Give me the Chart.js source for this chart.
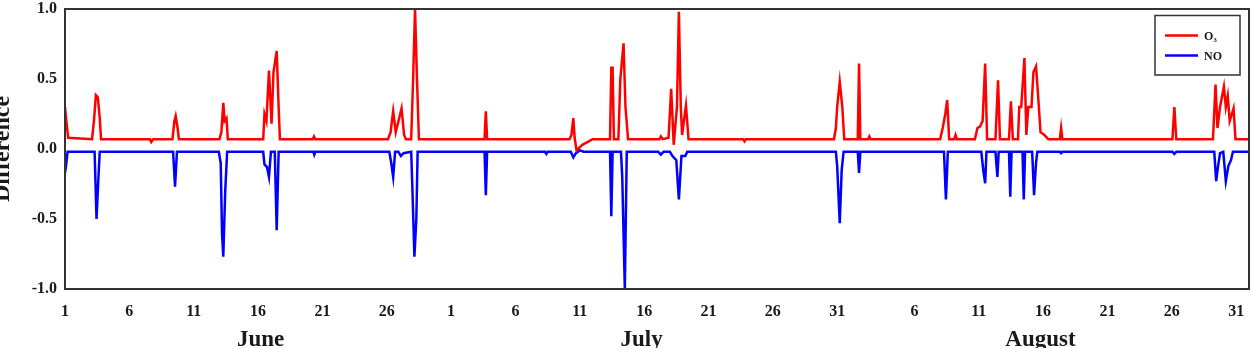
<!DOCTYPE html>
<html lang="en">
<head>
    <meta charset="UTF-8">
    <title>O3 / NO difference</title>
    <script src="https://cdn.jsdelivr.net/npm/chart.js"></script>
    <style>
        body {
            margin: 0;
            background-color: #ffffff;
        }

        .chart-container {
            position: relative;
            width: 1253px;
            height: 348px;
        }
    </style>
</head>
<body>
    <div class="chart-container">
        <canvas id="lineChart"></canvas>
    </div>

    <script>
        // x = days since 1 June (0 = June 1, 30 = July 1, 61 = Aug 1)
        const o3Day = [0, 0.08, 0.25, 2.1, 2.25, 2.4, 2.55, 2.7, 2.8, 6.6, 6.7, 6.85, 8.35, 8.5, 8.6, 8.75, 8.85,
            12.0, 12.15, 12.3, 12.4, 12.55, 12.65, 15.4, 15.5, 15.65, 15.85, 16.05, 16.2, 16.45, 16.6, 16.7,
            19.25, 19.35, 19.45, 25.1, 25.3, 25.5, 25.7, 26.15, 26.35, 26.5, 26.9, 27.05, 27.2, 27.35, 27.5,
            32.6, 32.7, 32.8, 39.2, 39.35, 39.5, 39.6, 39.75, 40.2, 41.0, 42.35, 42.45, 42.55, 42.65,
            43.0, 43.15, 43.25, 43.4, 43.55, 43.75, 46.2, 46.3, 46.45, 46.9, 47.1, 47.3, 47.55, 47.7, 47.85,
            47.95, 48.25, 48.45, 52.7, 52.8, 52.9, 59.75, 59.9, 60.0, 60.2, 60.4, 60.55, 61.6, 61.7, 61.8,
            62.4, 62.5, 62.6, 68.0, 68.2, 68.4, 68.55, 68.7, 69.1, 69.2, 69.3, 70.7, 70.9, 71.1, 71.3, 71.5,
            71.65, 72.3, 72.5, 72.65, 73.35, 73.5, 73.65, 74.05, 74.15, 74.3, 74.55, 74.7, 74.85, 75.1, 75.25,
            75.45, 75.6, 75.8, 76.1, 76.4, 77.3, 77.4, 77.5, 86.05, 86.2, 86.35, 89.2, 89.4, 89.55, 89.75,
            90.05, 90.2, 90.35, 90.5, 90.8, 90.95, 92];
        const o3Value = [0.30, 0.22, 0.08, 0.07, 0.20, 0.385, 0.37, 0.22, 0.07, 0.07, 0.05, 0.07, 0.07, 0.20, 0.235, 0.15, 0.07,
            0.07, 0.12, 0.33, 0.20, 0.22, 0.07, 0.07, 0.25, 0.20, 0.56, 0.18, 0.55, 0.70, 0.30, 0.07,
            0.07, 0.09, 0.07, 0.07, 0.12, 0.27, 0.12, 0.29, 0.10, 0.07, 0.07, 0.50, 1.0, 0.50, 0.07,
            0.07, 0.27, 0.07, 0.07, 0.10, 0.22, 0.08, -0.01, 0.03, 0.07, 0.07, 0.58, 0.58, 0.07,
            0.07, 0.50, 0.60, 0.755, 0.30, 0.07, 0.07, 0.09, 0.07, 0.08, 0.43, 0.03, 0.30, 0.98, 0.30,
            0.10, 0.31, 0.07, 0.07, 0.055, 0.07, 0.07, 0.15, 0.30, 0.48, 0.30, 0.07, 0.07, 0.61, 0.07,
            0.07, 0.09, 0.07, 0.07, 0.15, 0.25, 0.35, 0.07, 0.07, 0.10, 0.07, 0.07, 0.15, 0.16, 0.20, 0.61,
            0.07, 0.07, 0.49, 0.07, 0.07, 0.34, 0.07, 0.07, 0.30, 0.30, 0.65, 0.10, 0.30, 0.30, 0.55,
            0.59, 0.40, 0.12, 0.10, 0.07, 0.07, 0.15, 0.07, 0.07, 0.30, 0.07, 0.07, 0.46, 0.15, 0.30,
            0.445, 0.30, 0.38, 0.20, 0.29, 0.07, 0.07];

        const noDay = [0, 0.08, 0.2, 2.3, 2.45, 2.6, 2.7, 8.4, 8.55, 8.7, 11.95, 12.1, 12.2, 12.3, 12.45, 12.6,
            15.4, 15.5, 15.7, 15.85, 16.0, 16.3, 16.45, 16.6, 19.3, 19.37, 19.45, 25.2, 25.35, 25.5, 25.65,
            25.9, 26.1, 26.3, 26.9, 27.0, 27.15, 27.3, 27.4, 32.6, 32.7, 32.8, 37.3, 37.4, 37.5,
            39.3, 39.5, 39.7, 40.0, 40.3, 42.35, 42.45, 42.55, 43.2, 43.3, 43.5, 43.65, 46.1, 46.3, 46.5,
            47.0, 47.2, 47.5, 47.7, 47.9, 48.2, 48.35, 59.9, 60.0, 60.2, 60.35, 60.5, 61.6, 61.7, 61.8,
            68.3, 68.45, 68.6, 71.2, 71.35, 71.5, 71.6, 72.3, 72.45, 72.55, 73.35, 73.45, 73.55,
            74.4, 74.5, 74.6, 75.15, 75.3, 75.45, 75.55, 77.3, 77.4, 77.5, 86.05, 86.2, 86.35,
            89.3, 89.45, 89.6, 89.75, 90.0, 90.2, 90.4, 90.6, 90.75, 92];
        const noValue = [-0.17, -0.12, -0.02, -0.02, -0.50, -0.20, -0.02, -0.02, -0.27, -0.02, -0.02, -0.10, -0.60, -0.77, -0.30, -0.02,
            -0.02, -0.11, -0.13, -0.20, -0.02, -0.02, -0.58, -0.02, -0.02, -0.04, -0.02, -0.02, -0.10, -0.20, -0.02,
            -0.02, -0.05, -0.03, -0.02, -0.30, -0.77, -0.50, -0.02, -0.02, -0.33, -0.02, -0.02, -0.035, -0.02,
            -0.02, -0.06, -0.03, -0.01, -0.02, -0.02, -0.48, -0.02, -0.02, -0.20, -1.0, -0.02, -0.02, -0.04, -0.02,
            -0.02, -0.05, -0.08, -0.36, -0.05, -0.05, -0.02, -0.02, -0.12, -0.53, -0.15, -0.02, -0.02, -0.17, -0.02,
            -0.02, -0.36, -0.02, -0.02, -0.15, -0.245, -0.02, -0.02, -0.20, -0.02, -0.02, -0.34, -0.02,
            -0.02, -0.36, -0.02, -0.02, -0.33, -0.10, -0.02, -0.02, -0.03, -0.02, -0.02, -0.035, -0.02,
            -0.02, -0.23, -0.12, -0.03, -0.02, -0.23, -0.12, -0.08, -0.02, -0.02];

        const tickDays = [0, 5, 10, 15, 20, 25, 30, 35, 40, 45, 50, 55, 60, 66, 71, 76, 81, 86, 91];
        const tickLabels = ["1", "6", "11", "16", "21", "26", "1", "6", "11", "16", "21", "26", "31", "6", "11", "16", "21", "26", "31"];
        const monthNames = ["June", "July", "August"];
        const monthCenters = [15.2, 44.8, 75.8];

        const serif = "'Liberation Serif', 'Times New Roman', serif";
        const inkColor = "#1a1a1a";

        // frame, y title, month names and legend box
        const decorations = {
            id: "decorations",
            afterDraw(chart) {
                const ctx = chart.ctx;
                const area = chart.chartArea;
                const xScale = chart.scales.x;

                ctx.save();
                ctx.strokeStyle = "#333333";
                ctx.lineWidth = 2;
                ctx.strokeRect(area.left, area.top, area.right - area.left, area.bottom - area.top);

                ctx.fillStyle = inkColor;
                ctx.font = "bold 23px " + serif;
                ctx.textAlign = "center";
                ctx.textBaseline = "alphabetic";
                monthNames.forEach((name, i) => {
                    ctx.fillText(name, xScale.getPixelForValue(monthCenters[i]), 346);
                });

                ctx.translate(9, (area.top + area.bottom) / 2);
                ctx.rotate(-Math.PI / 2);
                ctx.font = "bold 24px " + serif;
                ctx.fillText("Difference", 0, 0);
                ctx.restore();

                // legend
                ctx.save();
                ctx.strokeStyle = "#333333";
                ctx.lineWidth = 1.5;
                ctx.strokeRect(1155, 15.5, 85, 59.5);
                ctx.font = "bold 12px " + serif;
                ctx.textAlign = "left";
                ctx.textBaseline = "middle";
                chart.data.datasets.forEach((ds, i) => {
                    const y = 35.5 + i * 20;
                    ctx.strokeStyle = ds.borderColor;
                    ctx.lineWidth = 2.5;
                    ctx.beginPath();
                    ctx.moveTo(1165, y);
                    ctx.lineTo(1198, y);
                    ctx.stroke();
                    ctx.fillStyle = inkColor;
                    ctx.fillText(ds.label, 1204, y + 1);
                });
                ctx.restore();
            }
        };

        const ctx = document.getElementById("lineChart").getContext("2d");
        new Chart(ctx, {
            type: "line",
            data: {
                datasets: [
                    {
                        label: "O₃",
                        data: o3Day.map((d, i) => ({ x: d, y: o3Value[i] })),
                        borderColor: "#ff0000",
                        borderWidth: 2.5,
                        pointRadius: 0,
                        fill: false
                    },
                    {
                        label: "NO",
                        data: noDay.map((d, i) => ({ x: d, y: noValue[i] })),
                        borderColor: "#0000ff",
                        borderWidth: 2.5,
                        pointRadius: 0,
                        fill: false
                    }
                ]
            },
            options: {
                responsive: true,
                maintainAspectRatio: false,
                animation: false,
                layout: {
                    padding: { top: 9, right: 4, left: 0, bottom: 0 }
                },
                plugins: {
                    legend: { display: false },
                    tooltip: { enabled: false }
                },
                scales: {
                    x: {
                        type: "linear",
                        min: 0,
                        max: 92,
                        grid: { display: false, drawTicks: false },
                        border: { display: false },
                        afterBuildTicks: scale => {
                            scale.ticks = tickDays.map(v => ({ value: v }));
                        },
                        afterFit: scale => {
                            scale.height = 59;
                            scale.paddingLeft = 0;
                            scale.paddingRight = 0;
                        },
                        ticks: {
                            autoSkip: false,
                            maxRotation: 0,
                            padding: 13,
                            color: inkColor,
                            font: { family: serif, size: 16, weight: "bold" },
                            callback: (value, index) => tickLabels[index]
                        }
                    },
                    y: {
                        min: -1,
                        max: 1,
                        grid: { display: false, drawTicks: false },
                        border: { display: false },
                        afterFit: scale => {
                            scale.width = 65;
                            scale.paddingTop = 0;
                            scale.paddingBottom = 0;
                        },
                        ticks: {
                            stepSize: 0.5,
                            padding: 8,
                            color: inkColor,
                            font: { family: serif, size: 16, weight: "bold" },
                            callback: value => value.toFixed(1)
                        }
                    }
                }
            },
            plugins: [decorations]
        });
    </script>
</body>
</html>
